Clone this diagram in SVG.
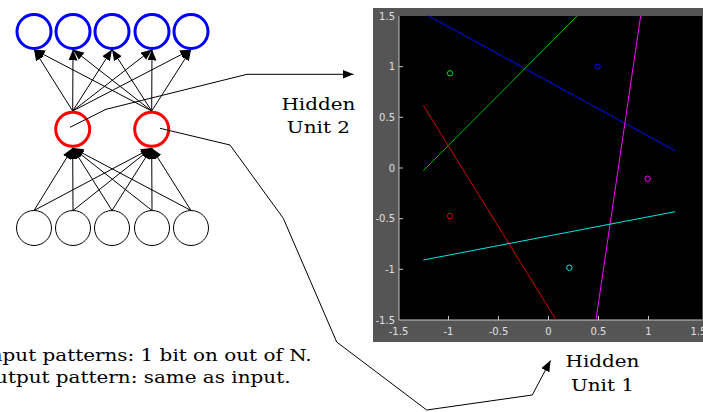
<svg xmlns="http://www.w3.org/2000/svg" width="703" height="412" viewBox="0 0 703 412">
<defs>
<marker id="ah" markerUnits="userSpaceOnUse" markerWidth="12" markerHeight="10" refX="11" refY="4.5" orient="auto">
<path d="M0,0 L11,4.5 L0,9 Z" fill="#000"/>
</marker>
<style>
.out{fill:#fff;stroke:#0000ff;stroke-width:3}
.hid{fill:#fff;stroke:#ff0000;stroke-width:3}
.inp{fill:#fff;stroke:#000;stroke-width:1}
.e{stroke:#000;stroke-width:1;fill:none;marker-end:url(#ah)}
.lbl{font-family:"DejaVu Serif",serif;font-size:17.5px;fill:#000}
.tk{font-family:"DejaVu Sans",sans-serif;font-size:10px;fill:#e0e0e0}
</style>
</defs>
<rect width="703" height="412" fill="#fff"/>

<g id="plot">
<rect x="373" y="8" width="330" height="334" fill="#555555"/>
<rect x="399" y="16" width="303" height="304" fill="#000"/>
<path d="M399,16 V320 H702" stroke="#c8c8c8" stroke-width="1" fill="none"/>
<g stroke="#c8c8c8" stroke-width="1">
<path d="M448.5,320 v-4 M498.5,320 v-4 M548.5,320 v-4 M598.5,320 v-4 M648.5,320 v-4"/>
<path d="M399,66.7 h4 M399,117.3 h4 M399,168 h4 M399,218.7 h4 M399,269.3 h4"/>
</g>
<g class="tk" text-anchor="end">
<text x="395" y="19.5">1.5</text>
<text x="395" y="70.2">1</text>
<text x="395" y="120.8">0.5</text>
<text x="395" y="171.5">0</text>
<text x="395" y="222.2">-0.5</text>
<text x="395" y="272.8">-1</text>
<text x="395" y="323.5">-1.5</text>
</g>
<g class="tk" text-anchor="middle">
<text x="398.5" y="335">-1.5</text>
<text x="448.5" y="335">-1</text>
<text x="498.5" y="335">-0.5</text>
<text x="548.5" y="335">0</text>
<text x="598.5" y="335">0.5</text>
<text x="648.5" y="335">1</text>
<text x="698.5" y="335">1.5</text>
</g>
<g stroke-width="1" fill="none">
<line x1="428.3" y1="15.7" x2="675" y2="150.7" stroke="#0000ff"/>
<line x1="423.3" y1="170.7" x2="577.3" y2="15.7" stroke="#00c000"/>
<line x1="423.3" y1="105.3" x2="556" y2="319.7" stroke="#d00000"/>
<line x1="640.7" y1="15.7" x2="596" y2="319.7" stroke="#ff00ff"/>
<line x1="423.3" y1="260" x2="675" y2="211.7" stroke="#00e8e8"/>
<circle cx="450" cy="73.3" r="2.7" stroke="#00e000"/>
<circle cx="597.7" cy="66.7" r="2.7" stroke="#0000ff"/>
<circle cx="647.7" cy="178.7" r="2.7" stroke="#ff00ff"/>
<circle cx="450" cy="216" r="2.7" stroke="#d00000"/>
<circle cx="569.3" cy="267.7" r="2.7" stroke="#00e8e8"/>
</g>
</g>

<g id="connectors">
<line class="e" x1="72.7" y1="111" x2="34" y2="49.5"/>
<line class="e" x1="72.7" y1="111" x2="73" y2="49.5"/>
<line class="e" x1="72.7" y1="111" x2="112" y2="49.5"/>
<line class="e" x1="72.7" y1="111" x2="152" y2="49.5"/>
<line class="e" x1="72.7" y1="111" x2="191" y2="49.5"/>
<line class="e" x1="151.7" y1="111" x2="34" y2="49.5"/>
<line class="e" x1="151.7" y1="111" x2="73" y2="49.5"/>
<line class="e" x1="151.7" y1="111" x2="112" y2="49.5"/>
<line class="e" x1="151.7" y1="111" x2="152" y2="49.5"/>
<line class="e" x1="151.7" y1="111" x2="191" y2="49.5"/>
<line class="e" x1="34" y1="210.5" x2="72.7" y2="148"/>
<line class="e" x1="73" y1="210.5" x2="72.7" y2="148"/>
<line class="e" x1="112" y1="210.5" x2="72.7" y2="148"/>
<line class="e" x1="152" y1="210.5" x2="72.7" y2="148"/>
<line class="e" x1="191" y1="210.5" x2="72.7" y2="148"/>
<line class="e" x1="34" y1="210.5" x2="151.7" y2="148"/>
<line class="e" x1="73" y1="210.5" x2="151.7" y2="148"/>
<line class="e" x1="112" y1="210.5" x2="151.7" y2="148"/>
<line class="e" x1="152" y1="210.5" x2="151.7" y2="148"/>
<line class="e" x1="191" y1="210.5" x2="151.7" y2="148"/>
</g>

<g id="outputs">
<g id="out1"><circle class="out" cx="34" cy="31.5" r="17"/></g>
<g id="out2"><circle class="out" cx="73" cy="31.5" r="17"/></g>
<g id="out3"><circle class="out" cx="112" cy="31.5" r="17"/></g>
<g id="out4"><circle class="out" cx="152" cy="31.5" r="17"/></g>
<g id="out5"><circle class="out" cx="191" cy="31.5" r="17"/></g>
</g>
<g id="hidden">
<g id="hid1"><circle class="hid" cx="72.7" cy="129.3" r="17"/></g>
<g id="hid2"><circle class="hid" cx="151.7" cy="129.3" r="17"/></g>
</g>
<g id="inputs">
<g id="in1"><circle class="inp" cx="34" cy="228" r="17.5"/></g>
<g id="in2"><circle class="inp" cx="73" cy="228" r="17.5"/></g>
<g id="in3"><circle class="inp" cx="112" cy="228" r="17.5"/></g>
<g id="in4"><circle class="inp" cx="152" cy="228" r="17.5"/></g>
<g id="in5"><circle class="inp" cx="191" cy="228" r="17.5"/></g>
</g>

<g id="leaders">
<polyline class="e" points="70,127.3 106,109.3 247,74.3 353.5,74.3"/>
<polyline class="e" points="160,128.3 230,145 283.3,218.3 336.7,342 426.7,410 532.3,395 550.5,360.5"/>
</g>

<g id="label-unit2" class="lbl" text-anchor="middle" transform="scale(1.14,1)">
<text x="279.3" y="110">Hidden</text>
<text x="279.3" y="133">Unit 2</text>
</g>
<g id="label-unit1" class="lbl" text-anchor="middle" transform="scale(1.14,1)">
<text x="528.5" y="367.5">Hidden</text>
<text x="528.5" y="391">Unit 1</text>
</g>
<g id="caption" class="lbl" text-anchor="end" transform="scale(1.14,1)">
<text x="273.4" y="360.7">Input patterns: 1 bit on out of N.</text>
<text x="254.8" y="383">Output pattern: same as input.</text>
</g>
</svg>
